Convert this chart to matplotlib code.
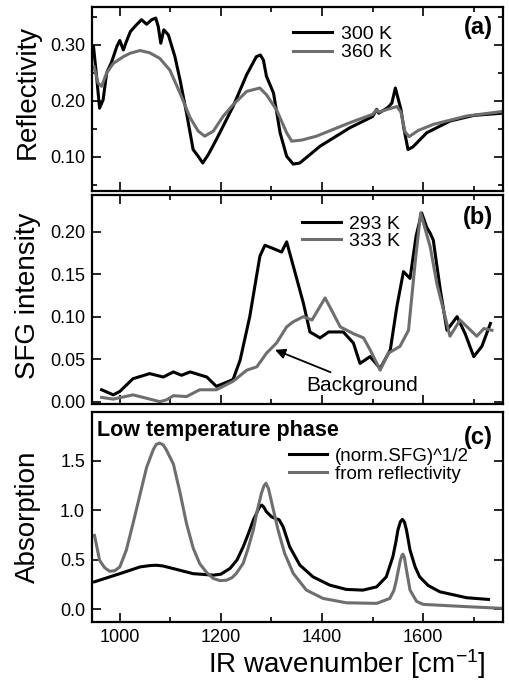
import matplotlib
matplotlib.use('Agg')
import matplotlib.pyplot as plt
from matplotlib.ticker import MultipleLocator

plt.rcParams['font.family'] = ['Liberation Sans', 'DejaVu Sans']
plt.rcParams['mathtext.default'] = 'regular'

BLACK = '#000000'
GRAY = '#6e6e6e'

# (a) reflectivity
wn_300 = [948, 954, 960, 967, 974, 984, 994, 1000, 1007, 1013, 1021, 1033, 1043, 1053,
          1063, 1071, 1076, 1081, 1087, 1096, 1109, 1119, 1132, 1145, 1155, 1164, 1175,
          1191, 1224, 1251, 1270, 1278, 1284, 1290, 1304, 1317, 1330, 1343, 1356, 1396,
          1455, 1500, 1508, 1512, 1530, 1538, 1545, 1551, 1556, 1562, 1570, 1580, 1607,
          1653, 1700, 1756]
refl_300 = [0.297, 0.244, 0.187, 0.202, 0.250, 0.270, 0.297, 0.308, 0.291, 0.306, 0.324,
            0.336, 0.345, 0.337, 0.345, 0.348, 0.333, 0.303, 0.327, 0.318, 0.279, 0.238,
            0.178, 0.113, 0.101, 0.089, 0.104, 0.131, 0.190, 0.247, 0.279, 0.282, 0.273,
            0.244, 0.214, 0.143, 0.101, 0.087, 0.089, 0.119, 0.152, 0.172, 0.185, 0.178,
            0.188, 0.196, 0.223, 0.202, 0.185, 0.150, 0.113, 0.118, 0.143, 0.164, 0.174,
            0.178]
wn_360 = [949, 957, 964, 974, 987, 1007, 1020, 1040, 1059, 1079, 1099, 1119, 1139, 1155,
          1168, 1185, 1204, 1224, 1251, 1277, 1290, 1310, 1330, 1340, 1360, 1389, 1455,
          1500, 1508, 1512, 1548, 1556, 1564, 1572, 1590, 1620, 1686, 1756]
refl_360 = [0.261, 0.232, 0.226, 0.250, 0.267, 0.279, 0.285, 0.290, 0.286, 0.276, 0.255,
            0.214, 0.170, 0.146, 0.137, 0.146, 0.172, 0.193, 0.217, 0.223, 0.211, 0.184,
            0.143, 0.128, 0.130, 0.137, 0.161, 0.176, 0.184, 0.180, 0.190, 0.180, 0.145,
            0.136, 0.147, 0.158, 0.173, 0.181]

# (b) SFG intensity
wn_293 = [964, 987, 1000, 1026, 1059, 1086, 1106, 1122, 1139, 1172, 1191, 1224, 1238,
          1257, 1277, 1287, 1304, 1320, 1330, 1347, 1363, 1376, 1396, 1413, 1442, 1462,
          1475, 1495, 1515, 1535, 1548, 1561, 1574, 1586, 1597, 1607, 1614, 1620, 1634,
          1647, 1667, 1683, 1700, 1716, 1733]
sfg_293 = [0.014, 0.008, 0.012, 0.027, 0.033, 0.029, 0.035, 0.031, 0.035, 0.029, 0.018,
           0.026, 0.049, 0.100, 0.171, 0.184, 0.180, 0.176, 0.188, 0.151, 0.116, 0.082,
           0.075, 0.082, 0.082, 0.069, 0.045, 0.053, 0.039, 0.061, 0.112, 0.153, 0.145,
           0.195, 0.222, 0.205, 0.198, 0.190, 0.131, 0.084, 0.100, 0.080, 0.053, 0.065,
           0.092]
wn_333 = [964, 987, 1026, 1053, 1079, 1092, 1106, 1132, 1158, 1191, 1224, 1251, 1271,
          1290, 1310, 1330, 1343, 1363, 1380, 1406, 1422, 1436, 1462, 1482, 1495, 1515,
          1531, 1554, 1571, 1584, 1595, 1614, 1627, 1653, 1673, 1706, 1720, 1736]
sfg_333 = [0.005, 0.003, 0.008, 0.004, 0.000, 0.002, 0.007, 0.006, 0.014, 0.014, 0.024,
           0.037, 0.041, 0.057, 0.069, 0.088, 0.094, 0.100, 0.096, 0.122, 0.104, 0.088,
           0.080, 0.075, 0.061, 0.037, 0.057, 0.065, 0.084, 0.163, 0.222, 0.182, 0.139,
           0.077, 0.096, 0.077, 0.086, 0.084]

# (c) absorption
wn_sfg = [950, 1000, 1040, 1060, 1072, 1085, 1106, 1145, 1185, 1200, 1218, 1232, 1244,
          1254, 1264, 1270, 1274, 1278, 1281, 1285, 1290, 1300, 1308, 1315, 1323, 1336,
          1356, 1382, 1415, 1448, 1481, 1508, 1527, 1540, 1546, 1550, 1555, 1559, 1563,
          1567, 1574, 1584, 1593, 1610, 1633, 1686, 1729]
abs_sfg = [0.278, 0.360, 0.428, 0.442, 0.445, 0.438, 0.411, 0.360, 0.345, 0.355, 0.413,
           0.500, 0.631, 0.760, 0.900, 0.965, 1.010, 1.045, 1.052, 1.030, 0.985, 0.935,
           0.915, 0.905, 0.833, 0.631, 0.447, 0.328, 0.245, 0.201, 0.194, 0.227, 0.328,
           0.530, 0.680, 0.800, 0.885, 0.908, 0.880, 0.800, 0.598, 0.430, 0.328, 0.240,
           0.177, 0.117, 0.100]
wn_refl = [950, 960, 970, 980, 990, 1000, 1013, 1026, 1040, 1053, 1066, 1072, 1079,
           1086, 1092, 1106, 1119, 1132, 1145, 1158, 1172, 1185, 1198, 1211, 1222, 1230,
           1244, 1254, 1264, 1272, 1280, 1285, 1289, 1294, 1300, 1313, 1326, 1343, 1369,
           1402, 1448, 1508, 1534, 1542, 1547, 1551, 1555, 1558, 1560, 1563, 1567, 1574,
           1587, 1600, 1686, 1756]
abs_refl = [0.746, 0.495, 0.420, 0.384, 0.390, 0.428, 0.600, 0.864, 1.160, 1.433, 1.610,
            1.665, 1.678, 1.660, 1.610, 1.466, 1.180, 0.864, 0.620, 0.461, 0.370, 0.311,
            0.290, 0.294, 0.320, 0.360, 0.464, 0.620, 0.800, 1.000, 1.170, 1.245, 1.272,
            1.220, 1.086, 0.800, 0.565, 0.363, 0.194, 0.110, 0.066, 0.060, 0.110, 0.190,
            0.295, 0.400, 0.497, 0.545, 0.557, 0.520, 0.396, 0.194, 0.080, 0.050, 0.027,
            0.010]

fig = plt.figure(figsize=(5.1, 6.87), dpi=100)
ax_a = fig.add_axes([0.1804, 0.722, 0.806, 0.268])
ax_b = fig.add_axes([0.1804, 0.412, 0.806, 0.304])
ax_c = fig.add_axes([0.1804, 0.0946, 0.806, 0.3054])

ax_a.plot(wn_300, refl_300, color=BLACK, lw=2.2, label='300 K')
ax_a.plot(wn_360, refl_360, color=GRAY, lw=2.2, label='360 K')
ax_a.set_ylim(0.039, 0.368)
ax_a.yaxis.set_major_locator(MultipleLocator(0.1))
ax_a.yaxis.set_minor_locator(MultipleLocator(0.05))
ax_a.yaxis.set_major_formatter(plt.FormatStrFormatter('%.2f'))
ax_a.set_ylabel('Reflectivity', fontsize=20)
ax_a.legend(loc='upper left', bbox_to_anchor=(0.49, 0.90), frameon=False, fontsize=14,
            handlelength=2.0, handletextpad=0.45, labelspacing=0.05, borderpad=0,
            borderaxespad=0)
ax_a.text(0.976, 0.886, '(a)', transform=ax_a.transAxes, ha='right', va='center',
          fontsize=17, fontweight='bold')

ax_b.plot(wn_293, sfg_293, color=BLACK, lw=2.2, label='293 K')
ax_b.plot(wn_333, sfg_333, color=GRAY, lw=2.2, label='333 K')
ax_b.set_ylim(-0.0027, 0.243)
ax_b.yaxis.set_major_locator(MultipleLocator(0.05))
ax_b.yaxis.set_major_formatter(plt.FormatStrFormatter('%.2f'))
ax_b.set_ylabel('SFG intensity', fontsize=20)
ax_b.legend(loc='upper left', bbox_to_anchor=(0.51, 0.905), frameon=False, fontsize=14,
            handlelength=2.0, handletextpad=0.45, labelspacing=0.0, borderpad=0,
            borderaxespad=0)
ax_b.text(0.976, 0.895, '(b)', transform=ax_b.transAxes, ha='right', va='center',
          fontsize=17, fontweight='bold')
ax_b.annotate('Background', xy=(1307, 0.061), xytext=(1369, 0.0196), fontsize=15,
              ha='left', va='center',
              arrowprops=dict(arrowstyle='-|>', color=BLACK, lw=1.3, shrinkA=1, shrinkB=0))

ax_c.plot(wn_sfg, abs_sfg, color=BLACK, lw=2.2, label='(norm.SFG)^1/2')
ax_c.plot(wn_refl, abs_refl, color=GRAY, lw=2.2, label='from reflectivity')
ax_c.set_ylim(-0.128, 1.99)
ax_c.yaxis.set_major_locator(MultipleLocator(0.5))
ax_c.yaxis.set_major_formatter(plt.FormatStrFormatter('%.1f'))
ax_c.set_ylabel('Absorption', fontsize=20)
ax_c.set_xlabel('IR wavenumber [cm$^{-1}$]', fontsize=20, labelpad=2)
ax_c.xaxis.set_label_coords(0.62, -0.12)
ax_c.legend(loc='upper left', bbox_to_anchor=(0.48, 0.83), frameon=False, fontsize=13.5,
            handlelength=2.0, handletextpad=0.45, labelspacing=0.05, borderpad=0,
            borderaxespad=0)
ax_c.text(0.976, 0.88, '(c)', transform=ax_c.transAxes, ha='right', va='center',
          fontsize=17, fontweight='bold')
ax_c.text(0.012, 0.914, 'Low temperature phase', transform=ax_c.transAxes, ha='left',
          va='center', fontsize=15.5, fontweight='bold')

for ax in (ax_a, ax_b, ax_c):
    ax.set_xlim(945, 1758)
    ax.xaxis.set_major_locator(MultipleLocator(200))
    ax.xaxis.set_minor_locator(MultipleLocator(100))
    for s in ax.spines.values():
        s.set_linewidth(1.6)
    ax.tick_params(which='both', direction='in', width=1.2, labelsize=13, pad=5,
                   right=True, top=(ax is not ax_c))
    ax.tick_params(which='major', length=6.5)
    ax.tick_params(which='minor', length=3.5)

ax_a.yaxis.set_label_coords(-0.125, 0.54)
ax_b.yaxis.set_label_coords(-0.125, 0.52)
ax_c.yaxis.set_label_coords(-0.125, 0.50)

ax_a.tick_params(axis='x', labelbottom=False)
ax_b.tick_params(axis='x', labelbottom=False)

plt.savefig('out.png', dpi=100)
